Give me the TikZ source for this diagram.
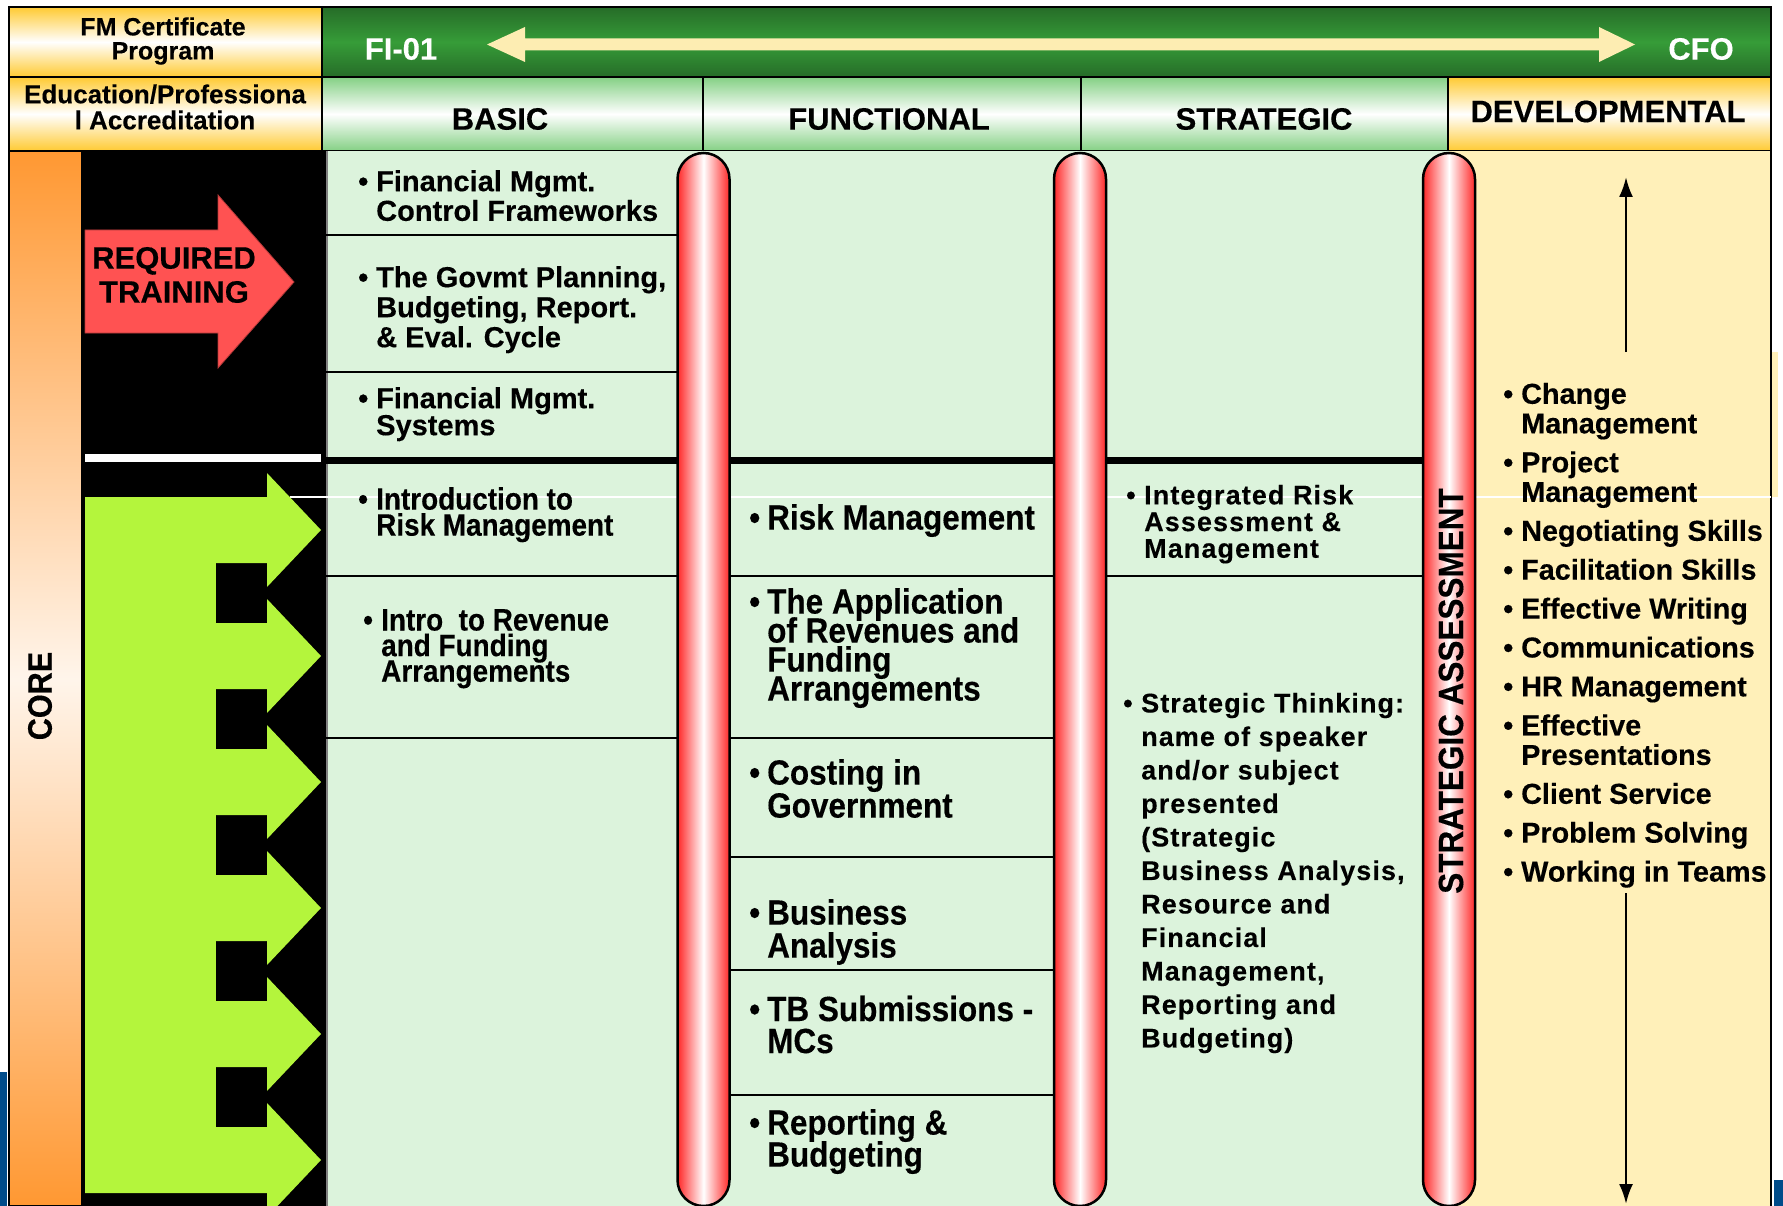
\documentclass[tikz,border=0pt]{standalone}
\usepackage{fontspec}
\setmainfont{Liberation Sans}[BoldFeatures={FakeBold=0.3}]
\newfontfamily\narrowfont{Liberation Sans}[FakeStretch=0.9, BoldFeatures={FakeBold=0.3}]
\newfontfamily\spacedfont{Liberation Sans}[LetterSpace=4, BoldFeatures={FakeBold=0.2}]
\usetikzlibrary{arrows.meta}
\lineskiplimit=-100pt
\definecolor{barGreen}{RGB}{38,108,40}
\definecolor{barGreenMid}{RGB}{54,156,56}
\definecolor{headGreen}{RGB}{132,208,132}
\definecolor{headGold}{RGB}{255,202,50}
\definecolor{cellGreen}{RGB}{220,243,220}
\definecolor{cellYellow}{RGB}{255,240,185}
\definecolor{coreOrange}{RGB}{255,152,50}
\definecolor{tubeRed}{RGB}{255,40,40}
\definecolor{reqRed}{RGB}{255,82,82}
\definecolor{arrowLime}{RGB}{180,245,60}
\definecolor{scaleCream}{RGB}{253,237,178}
\definecolor{edgeBlue}{RGB}{0,76,138}
\newcommand*{\bul}{\makebox[18pt][l]{\textbullet}}
\newcommand*{\bulind}{\hspace*{18pt}}

\begin{document}
\begin{tikzpicture}[x=1pt, y=-1pt,
  hdrcell/.style={draw=black, line width=2.5pt},
  goldcell/.style={hdrcell, top color=headGold, bottom color=headGold, middle color=white},
  greencell/.style={hdrcell, top color=headGreen, bottom color=headGreen, middle color=white},
  tube/.style={draw=black, line width=2.5pt, rounded corners=26pt, left color=tubeRed, right color=tubeRed, middle color=white},
  rule/.style={line width=2.8pt},
  hdrtext/.style={inner sep=0pt, align=center, font=\bfseries\fontsize{31}{31}\selectfont},
  txt/.style 2 args={anchor=north west, inner sep=0pt, align=left, font=\bfseries\fontsize{#1}{#2}\selectfont},
  ntxt/.style 2 args={anchor=north west, inner sep=0pt, align=left, font=\narrowfont\bfseries\fontsize{#1}{#2}\selectfont},
  stxt/.style 2 args={anchor=north west, inner sep=0pt, align=left, font=\spacedfont\bfseries\fontsize{#1}{#2}\selectfont}]
\useasboundingbox (0,0) rectangle (1783,1206);
\fill[edgeBlue] (0,1072) rectangle (7,1206);
\fill[edgeBlue] (1774,1180) rectangle (1783,1206);
\fill[cellYellow] (1771,352) rectangle (1778,497);
\draw[goldcell] (9,7) rectangle (322,77);
\draw[hdrcell, top color=barGreen, bottom color=barGreen, middle color=barGreenMid] (322,7) rectangle (1771,77);
\fill[scaleCream] (487,44.5) -- (525,27) -- (525,38.5) -- (1599,38.5) -- (1599,27) -- (1635,44.5) -- (1599,62) -- (1599,50.5) -- (525,50.5) -- (525,62) -- cycle;
\draw[goldcell] (9,77) rectangle (322,151);
\draw[greencell] (322,77) rectangle (703,151);
\draw[greencell] (703,77) rectangle (1081,151);
\draw[greencell] (1081,77) rectangle (1448,151);
\draw[goldcell] (1448,77) rectangle (1771,151);
\fill[black] (82,151) rectangle (326,1206);
\draw[line width=2.5pt, top color=coreOrange, bottom color=coreOrange, middle color=coreOrange!10!white] (9,151) rectangle (82,1206);
\fill[cellGreen] (326,151) rectangle (1449,1206);
\fill[cellYellow] (1449,151) rectangle (1771,1206);
\draw[gray, line width=2pt] (327,151) -- (327,1206);
\draw[line width=2.5pt] (1771,151) -- (1771,1206);
\draw[rule] (326,235) -- (703,235) (326,372) -- (703,372) (326,576) -- (1449,576) (326,738) -- (1080,738)
  (703,857) -- (1080,857) (703,970) -- (1080,970) (703,1095) -- (1080,1095);
\draw[line width=7pt] (326,460) -- (1449,460);
\draw[white, line width=1.2pt] (290,497) -- (1771,497);
\draw[fill=reqRed, draw=reqRed!70!black, line width=0.8pt] (85,230) -- (218,230) -- (218,195) -- (294,282) -- (218,368) -- (218,333) -- (85,333) -- cycle;
\fill[white] (85,454) rectangle (321,462);
\fill[arrowLime] (85,497) rectangle (216,1192);
\foreach \t in {530,656,782,908,1034,1160}
  \fill[arrowLime] (85,{\t-33}) -- (267,{\t-33}) -- (267,{\t-57}) -- (321,\t) -- (267,{\t+57}) -- (267,{\t+33}) -- (85,{\t+33}) -- cycle;
\draw[tube] (677.5,153) rectangle (729.5,1206);
\draw[tube] (1054,153) rectangle (1106,1206);
\draw[tube] (1423,153) rectangle (1475,1206);
\coordinate (upFoot) at (1626,352);
\coordinate (upTip) at (1626,177);
\coordinate (downFoot) at (1626,893);
\coordinate (downTip) at (1626,1204);
\draw[line width=2.5pt, -{Latex[length=20pt,width=14pt]}] (upFoot) -- (upTip);
\draw[line width=2.5pt, -{Latex[length=20pt,width=14pt]}] (downFoot) -- (downTip);
\node[hdrtext, font=\bfseries\fontsize{25}{24}\selectfont] (fmHead) at (163,41) {FM Certificate\\Program};
\node[hdrtext, font=\bfseries\fontsize{26}{26}\selectfont] (eduHead) at (165,107) {Education/Professiona\\l Accreditation};
\node[hdrtext] (basicHead) at (500,119) {BASIC};
\node[hdrtext] (funcHead) at (889,119) {FUNCTIONAL};
\node[hdrtext] (stratHead) at (1264,119) {STRATEGIC};
\node[hdrtext] (devHead) at (1608,111.5) {DEVELOPMENTAL};
\node[hdrtext, text=white] (fiLabel) at (401,49) {FI-01};
\node[hdrtext, text=white] (cfoLabel) at (1701,49) {CFO};
\node[hdrtext, font=\bfseries\fontsize{31}{34}\selectfont] (reqLabel) at (174,275) {REQUIRED\\TRAINING};
\node[hdrtext, rotate=90, font=\narrowfont\bfseries\fontsize{34}{34}\selectfont] (coreLabel) at (40,696) {CORE};
\node[hdrtext, rotate=90, font=\narrowfont\bfseries\fontsize{35}{35}\selectfont] (assessLabel) at (1451,691) {STRATEGIC ASSESSMENT};
\node[txt={29}{29.6}] (b1) at (358,170) {\bul Financial Mgmt.\\\bulind Control Frameworks};
\node[txt={29}{30}] (b2) at (358,266) {\bul The Govmt Planning,\\\bulind Budgeting, Report.\\\bulind \& Eval. Cycle};
\node[txt={29}{27}] (b3) at (358,387) {\bul Financial Mgmt.\\\bulind Systems};
\node[ntxt={31}{26}] (b4) at (358,487) {\bul Introduction to\\\bulind Risk Management};
\node[ntxt={31}{25.6}] (b5) at (363,609) {\bul Intro\ \ to Revenue\\\bulind and Funding\\\bulind Arrangements};
\node[ntxt={35}{29}] (f1) at (749,504) {\bul Risk Management};
\node[ntxt={35}{29}] (f2) at (749,588) {\bul The Application\\\bulind of Revenues and\\\bulind Funding\\\bulind Arrangements};
\node[ntxt={35}{33}] (f3) at (749,759) {\bul Costing in\\\bulind Government};
\node[ntxt={35}{33}] (f4) at (749,899) {\bul Business\\\bulind Analysis};
\node[ntxt={35}{32}] (f5) at (749,995.5) {\bul TB Submissions -\\\bulind MCs};
\node[ntxt={35}{32}] (f6) at (749,1109) {\bul Reporting \&\\\bulind Budgeting};
\node[stxt={27}{26.7}] (s1) at (1126,484.6) {\bul Integrated Risk\\\bulind Assessment \&\\\bulind Management};
\node[stxt={27}{33.5}] (s2) at (1123,692.7) {\bul Strategic Thinking:\\\bulind name of speaker\\\bulind and/or subject\\\bulind presented\\\bulind (Strategic\\\bulind Business Analysis,\\\bulind Resource and\\\bulind Financial\\\bulind Management,\\\bulind Reporting and\\\bulind Budgeting)};
\node[txt={28.8}{29.6}] (devList) at (1503,382.7) {\bul Change\\\bulind Management\\[9.3pt]\bul Project\\\bulind Management\\[9.3pt]\bul Negotiating Skills\\[9.3pt]\bul Facilitation Skills\\[9.3pt]\bul Effective Writing\\[9.3pt]\bul Communications\\[9.3pt]\bul HR Management\\[9.3pt]\bul Effective\\\bulind Presentations\\[9.3pt]\bul Client Service\\[9.3pt]\bul Problem Solving\\[9.3pt]\bul Working in Teams};
\end{tikzpicture}
\end{document}
